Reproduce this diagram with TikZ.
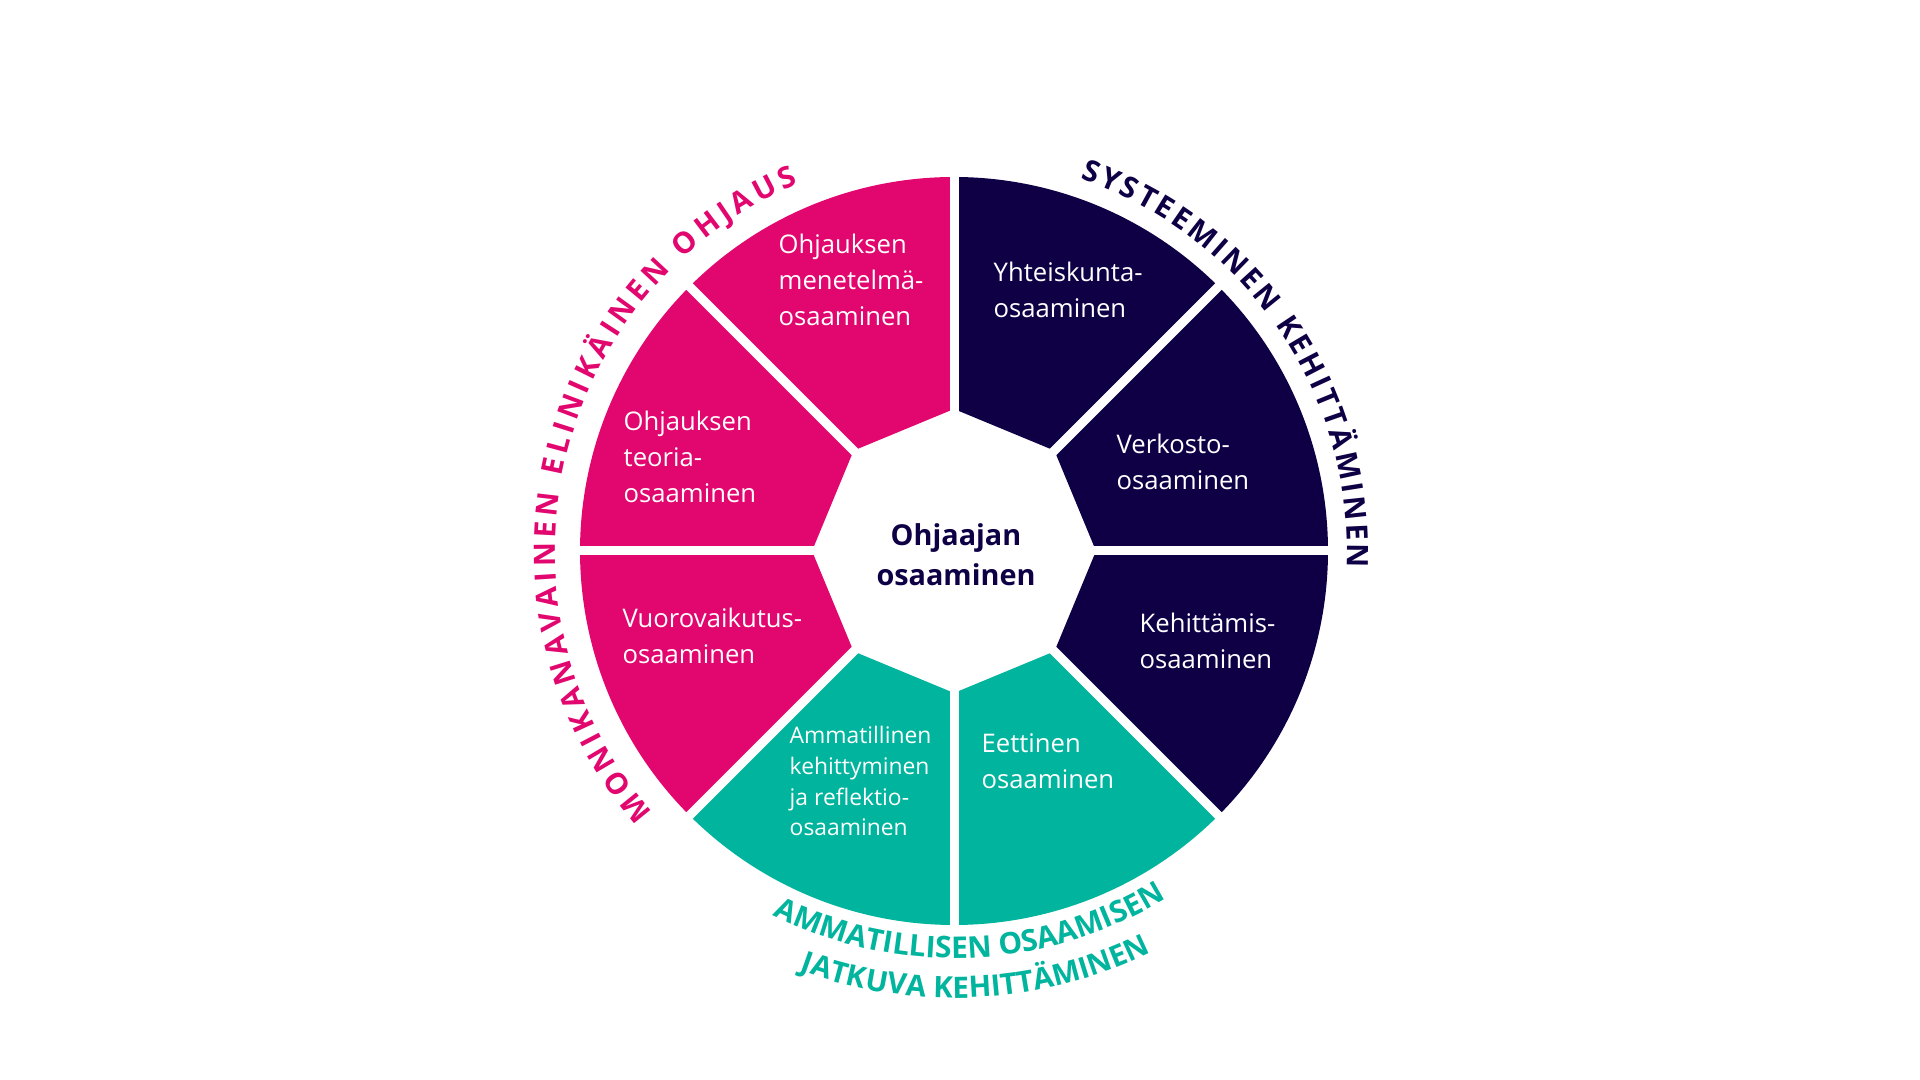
\documentclass[tikz,border=0pt]{standalone}
\usepackage{fontspec}
\setmainfont{Open Sans}
\usetikzlibrary{decorations.text}

\definecolor{ohjpink}{HTML}{E2066F}
\definecolor{ohjnavy}{HTML}{0F0046}
\definecolor{ohjteal}{HTML}{00B49D}

\begin{document}
\begin{tikzpicture}[
    seg/.style={text=white, align=left, inner sep=0pt, anchor=west, font=\fontsize{7.3}{10.2}\selectfont},
    rim/.style={decorate, decoration={text along path, text align=fit to path, text={#1}}},
    rimc/.style={decorate, decoration={text along path, text align=center, text={#1}}}
  ]
        \useasboundingbox (0,0) rectangle (19.2,10.8);
        \coordinate (hub) at (9.54,5.29);

        % Segments
        \foreach \a/\col in {0/ohjnavy,45/ohjnavy,90/ohjpink,135/ohjpink,180/ohjpink,225/ohjteal,270/ohjteal,315/ohjnavy}
          \fill[\col, shift={(hub)}] (\a:1.42) -- (\a:3.74) arc[start angle=\a, end angle=\a+45, radius=3.74] -- (\a+45:1.42) -- cycle;

        % White gaps
        \foreach \a in {0,45,...,315}
          \draw[white, line width=0.09cm, shift={(hub)}] (0,0) -- (\a:3.9);

        % Segment labels
        \node[seg] (menetelma) at (7.78,8.00) {Ohjauksen\\menetelmä-\\osaaminen};
        \node[seg] (teoria) at (6.23,6.23) {Ohjauksen\\teoria-\\osaaminen};
        \node[seg] (vuoro) at (6.22,4.44) {Vuorovaikutus-\\osaaminen};
        \node[seg, font=\fontsize{6.5}{8.8}\selectfont] (ammatillinen) at (7.89,2.99) {Ammatillinen\\kehittyminen\\ja reflektio-\\osaaminen};
        \node[seg] (eettinen) at (9.81,3.19) {Eettinen\\osaaminen};
        \node[seg] (kehittamis) at (11.39,4.39) {Kehittämis-\\osaaminen};
        \node[seg] (verkosto) at (11.16,6.18) {Verkosto-\\osaaminen};
        \node[seg] (yhteiskunta) at (9.93,7.90) {Yhteiskunta-\\osaaminen};

        % Centre
        \node[text=ohjnavy, align=center, font=\bfseries\fontsize{8.2}{11.4}\selectfont] (core) at (9.56,5.25) {Ohjaajan\\osaaminen};

        % Rim texts
        \path[rim={|\color{ohjpink}\bfseries\fontsize{8.4}{9}\selectfont|MONIKANAVAINEN ELINIKÄINEN OHJAUS}, shift={(hub)}]
          (221:3.99) arc[start angle=221, end angle=113, radius=3.99];
        \path[rim={|\color{ohjnavy}\bfseries\fontsize{8.4}{9}\selectfont|SYSTEEMINEN KEHITTÄMINEN}, shift={(hub)}]
          (71.3:3.93) arc[start angle=71.3, end angle=-2.4, radius=3.93];
        \path[rimc={|\color{ohjteal}\bfseries\fontsize{8.5}{9}\selectfont|AMMATILLISEN OSAAMISEN}, shift={(hub)}]
          (202.5:4.07) arc[start angle=202.5, end angle=342.5, radius=4.07];
        \path[rimc={|\color{ohjteal}\bfseries\fontsize{8.4}{9}\selectfont|JATKUVA KEHITTÄMINEN}, shift={(hub)}]
          (203:4.47) arc[start angle=203, end angle=343, radius=4.47];
    \end{tikzpicture}
\end{document}
